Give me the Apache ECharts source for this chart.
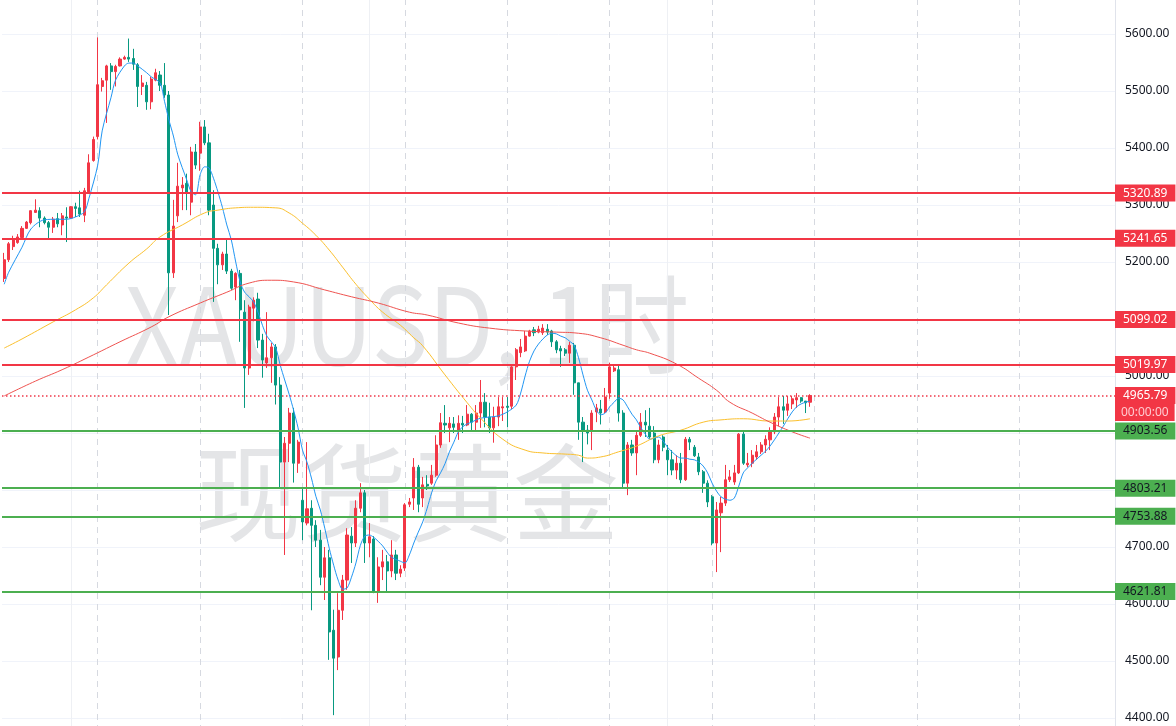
<!DOCTYPE html>
<html>
<head>
<meta charset="utf-8">
<script src="https://cdn.jsdelivr.net/npm/echarts@6/dist/echarts.min.js"></script>
<style>
html,body{margin:0;padding:0;background:#ffffff;overflow:hidden;}
#chart{width:1176px;height:798px;margin-top:-23px;}
</style>
</head>
<body>
<div id="chart"></div>
<script>
// ---- data (XAUUSD 1h) ----
const opens = [5171,5204,5227,5234,5243,5259,5269,5287,5290,5277,5269,5261,5276,5265,5279,5277,5297,5295,5282,5323,
5378,5420,5508,5519,5544,5534,5544,5556,5559,5557,5546,5508,5510,5481,5519,5528,5510,5493,5181,5281,
5330,5338,5305,5393,5391,5437,5409,5300,5224,5195,5214,5184,5156,5180,5112,5014,5119,5135,5063,5023,
5032,5051,4984,4849,4882,4935,4847,4782,4742,4768,4738,4712,4647,4681,4554,4507,4589,4642,4719,4707,
4768,4795,4707,4714,4621,4665,4674,4658,4686,4654,4663,4775,4786,4840,4786,4810,4812,4826,4879,4917,
4909,4916,4905,4917,4914,4933,4919,4935,4954,4928,4909,4928,4944,4947,4947,5016,5041,5044,5070,5081,
5077,5076,5082,5079,5060,5048,5046,5040,5054,4988,4919,4905,4903,4937,4942,4937,4970,5009,5011,4935,
4812,4879,4865,4896,4919,4912,4900,4853,4893,4870,4853,4835,4847,4818,4889,4875,4858,4832,4812,4788,
4707,4760,4777,4818,4814,4830,4898,4844,4847,4858,4867,4879,4888,4902,4928,4946,4940,4951,4958,4962,
4956,4954];
const highs = [5216,5235,5246,5249,5263,5272,5291,5310,5296,5280,5272,5279,5286,5286,5296,5298,5304,5325,5330,5389,
5420,5594,5523,5546,5549,5546,5559,5562,5592,5574,5549,5528,5516,5525,5539,5535,5549,5500,5309,5374,
5349,5355,5402,5407,5446,5449,5425,5326,5232,5218,5239,5188,5182,5186,5133,5125,5138,5146,5074,5112,
5058,5056,4998,4893,4944,4944,4888,4805,4884,4782,4747,4730,4700,4695,4590,4619,4651,4733,4735,4782,
4812,4800,4742,4719,4682,4695,4686,4712,4695,4668,4777,4786,4856,4844,4823,4826,4844,4896,4935,4949,
4928,4928,4931,4930,4949,4935,4949,4993,4970,4953,4946,4963,4963,4963,5018,5049,5065,5079,5081,5086,
5088,5091,5091,5081,5063,5053,5049,5060,5058,4988,4928,4914,4940,4951,4958,4979,5023,5021,5018,4940,
4884,4888,4905,4935,4940,4944,4912,4888,4896,4879,4870,4861,4865,4893,4893,4879,4865,4835,4817,4791,
4779,4788,4844,4835,4844,4900,4902,4865,4870,4879,4884,4896,4910,4935,4963,4965,4965,4965,4970,4963,
4956,4968];
const lows = [5165,5200,5221,5232,5241,5258,5266,5286,5261,5266,5239,5251,5261,5247,5235,5276,5279,5279,5270,5321,
5376,5415,5499,5444,5502,5508,5543,5555,5551,5537,5472,5493,5467,5468,5517,5500,5488,5107,5172,5270,
5291,5291,5282,5363,5360,5405,5282,5130,5161,5186,5179,5151,5133,5060,4944,5002,5096,5049,4997,5014,
4988,4950,4805,4686,4849,4813,4830,4712,4738,4589,4700,4633,4607,4502,4405,4484,4572,4625,4672,4700,
4761,4672,4682,4619,4602,4642,4621,4647,4642,4647,4658,4770,4765,4761,4770,4800,4809,4823,4874,4900,
4884,4900,4888,4900,4912,4903,4903,4909,4910,4900,4883,4912,4921,4910,4942,4993,5033,5042,5069,5070,
5075,5072,5072,5051,5040,5016,5035,5023,4967,4888,4849,4880,4870,4919,4915,4935,4960,5007,4920,4805,
4791,4860,4826,4893,4893,4890,4847,4847,4868,4826,4826,4819,4812,4816,4870,4858,4826,4795,4770,4703,
4656,4691,4772,4814,4809,4828,4844,4840,4840,4853,4863,4865,4870,4898,4912,4916,4930,4942,4944,4953,
4935,4946];
const closes = [5204,5232,5239,5244,5259,5270,5290,5291,5277,5269,5261,5275,5267,5281,5277,5297,5294,5284,5325,5374,
5415,5511,5518,5544,5534,5543,5556,5559,5556,5547,5508,5514,5481,5521,5532,5510,5493,5181,5263,5333,
5335,5321,5393,5370,5437,5409,5291,5224,5195,5214,5184,5154,5180,5116,5014,5121,5133,5063,5028,5032,
5051,4984,4849,4882,4935,4847,4884,4744,4767,4738,4712,4647,4681,4551,4505,4589,4642,4721,4707,4768,
4795,4707,4718,4621,4665,4674,4658,4686,4654,4661,4774,4779,4840,4775,4809,4807,4826,4879,4918,4914,
4917,4910,4917,4914,4933,4919,4935,4954,4928,4909,4928,4946,4946,4945,5016,5046,5051,5070,5079,5076,
5082,5084,5077,5060,5046,5044,5040,5054,4988,4919,4905,4900,4935,4944,4935,4963,5016,5014,4935,4812,
4879,4865,4896,4919,4914,4893,4853,4879,4875,4853,4835,4847,4818,4889,4884,4860,4832,4812,4779,4707,
4765,4777,4818,4823,4830,4898,4847,4847,4861,4867,4879,4889,4902,4928,4946,4940,4951,4960,4962,4956,
4953,4965.79];

// moving averages: [bar index, value]
const maFast = [[0,5161],[1,5182],[4,5226],[6,5258],[9,5274],[12,5275],[14,5275],[16,5279],[18,5288],[19,5311],
[21,5370],[22,5430],[24,5489],[25,5519],[27,5544],[28,5549],[29,5549],[30,5544],[32,5532],[33,5525],[35,5514],
[36,5482],[37,5449],[38,5421],[39,5388],[41,5344],[42,5323],[43,5318],[44,5353],[45,5367],[46,5365],[47,5347],
[48,5323],[49,5296],[50,5265],[51,5239],[52,5200],[53,5165],[54,5147],[55,5139],[56,5130],[57,5112],[58,5089],
[59,5070],[60,5060],[61,5049],[62,5019],[63,4993],[64,4968],[65,4940],[66,4909],[67,4870],[68,4849],[69,4821],
[70,4789],[71,4765],[72,4733],[73,4698],[74,4668],[75,4642],[76,4626],[77,4628],[78,4647],[79,4672],[80,4703],
[81,4719],[82,4721],[83,4717],[84,4710],[85,4702],[86,4691],[87,4682],[89,4675],[90,4672],[91,4686],[92,4707],
[93,4726],[94,4744],[95,4768],[96,4795],[97,4816],[98,4830],[99,4846],[100,4867],[101,4884],[102,4902],[103,4911],
[104,4916],[105,4919],[106,4923],[107,4926],[109,4928],[111,4930],[113,4937],[115,4949],[116,4970],[117,5000],
[118,5026],[119,5044],[120,5056],[121,5065],[122,5072],[123,5075],[124,5074],[125,5070],[126,5067],[127,5061],
[128,5054],[129,5032],[130,5002],[131,4975],[132,4958],[133,4940],[134,4932],[135,4935],[136,4946],[137,4954],
[138,4961],[139,4958],[140,4946],[141,4933],[142,4923],[143,4909],[144,4898],[145,4889],[146,4891],[147,4893],
[148,4886],[149,4875],[150,4867],[151,4860],[152,4856],[153,4856],[154,4854],[155,4853],[156,4849],[157,4842],
[158,4830],[159,4812],[160,4798],[161,4788],[162,4784],[163,4782],[164,4786],[165,4807],[166,4830],[167,4839],
[168,4847],[169,4854],[170,4861],[171,4868],[172,4877],[173,4888],[174,4900],[175,4912],[176,4925],[177,4937],
[178,4946],[179,4951],[180,4954],[181,4956]];
const maMid = [[0,5049],[4,5065],[11,5095],[16,5116],[20,5137],[23,5160],[28,5198],[32,5223],[35,5244],[40,5265],
[45,5286],[48,5291],[52,5295],[56,5296],[61,5295],[64,5286],[67,5268],[70,5247],[73,5221],[76,5191],[79,5161],
[82,5135],[85,5112],[89,5089],[92,5067],[94,5053],[99,5002],[104,4953],[107,4926],[112,4889],[117,4870],
[121,4865],[126,4863],[129,4861],[131,4856],[134,4858],[138,4867],[142,4877],[147,4895],[152,4905],[157,4919],
[161,4923],[166,4925],[172,4921],[176,4921],[181,4925]];
const maSlow = [[0,4965],[7,4991],[13,5011],[20,5037],[26,5060],[33,5086],[37,5104],[44,5128],[50,5147],[55,5163],
[60,5168],[65,5165],[72,5151],[78,5139],[84,5128],[91,5112],[95,5107],[102,5093],[109,5084],[117,5079],[124,5077],
[129,5075],[134,5067],[139,5054],[142,5046],[145,5040],[151,5021],[156,4996],[160,4975],[163,4954],[168,4935],
[172,4919],[177,4902],[181,4891]];

const resistanceLevels = [5320.89, 5241.65, 5099.02, 5019.97];
const supportLevels = [4903.56, 4803.21, 4753.88, 4621.81];
const lastPrice = 4965.79;
const countdownText = '00:00:00';
const sessionBreaks = [21, 44, 67, 90, 113, 136, 159, 182, 205, 228];
const periodBreaks = [15, 82, 149];
const watermarkLines = ['XAUUSD, 1时', '现货黄金'];

const slotCount = 250;
const categories = Array.from({length: slotCount}, (_, i) => 'bar' + i);
const yMin = 4300, yMax = 5700, yStep = 100;

// ---- layout / styles ----
// the chart canvas is 798px tall and shifted up by 23px, so 5700 / 4300 fall just outside the window
const FONT = '"Noto Sans", "DejaVu Sans", sans-serif';
const RED = '#F23645', GREEN_LINE = '#4CAF50', UP = '#F23645', DOWN = '#089981';
const canvasH = 798, shiftY = 23;
const pxPerUnit = canvasH / (yMax - yMin);

const candleData = opens.map((o, i) => [o, closes[i], lows[i], highs[i]]);

function levelLine(v, bg, fg) {
  return {
    yAxis: v,
    lineStyle: {color: bg, width: 2, type: 'solid'},
    label: {show: true, position: 'end', distance: 0, formatter: v.toFixed(2),
      backgroundColor: bg, color: fg, padding: [2, 8, 2, 8], fontSize: 12, fontFamily: FONT, lineHeight: 13}
  };
}

const markData = [];
resistanceLevels.forEach(v => markData.push(levelLine(v, RED, '#ffffff')));
supportLevels.forEach(v => markData.push(levelLine(v, GREEN_LINE, '#131722')));
markData.push({
  yAxis: lastPrice,
  lineStyle: {color: '#F0394A', width: 1.5, type: [1.5, 2.5], opacity: 1},
  label: {show: true, position: 'end', distance: 0, formatter: lastPrice.toFixed(2),
    backgroundColor: RED, color: '#ffffff', padding: [2, 8, 2, 8], fontSize: 12, fontFamily: FONT, lineHeight: 13}
});
markData.push({
  yAxis: lastPrice - 17 / pxPerUnit,
  lineStyle: {color: 'rgba(255,255,255,0)', width: 0},
  label: {show: true, position: 'end', distance: 0, formatter: countdownText,
    backgroundColor: RED, color: '#ffc9cf', padding: [2, 6, 2, 6], fontSize: 12, fontFamily: FONT, lineHeight: 13}
});

const vLines = [];
sessionBreaks.forEach(i => vLines.push({xAxis: i, lineStyle: {color: '#d6d9e0', width: 1, type: [6, 5]}}));
periodBreaks.forEach(i => vLines.push({xAxis: i, lineStyle: {color: '#eef0f4', width: 1, type: 'solid'}}));

const chart = echarts.init(document.getElementById('chart'), null, {renderer: 'canvas'});
chart.setOption({
  animation: false,
  backgroundColor: '#ffffff',
  grid: {left: 2, right: 61, top: 0, bottom: 0, containLabel: false, outerBoundsMode: 'none'},
  xAxis: {
    type: 'category', data: categories, boundaryGap: true,
    axisLine: {show: false}, axisTick: {show: false}, axisLabel: {show: false}, splitLine: {show: false}
  },
  yAxis: {
    type: 'value', position: 'right', min: yMin, max: yMax, interval: yStep,
    axisLine: {show: true, lineStyle: {color: '#e0e3eb'}},
    axisTick: {show: false},
    axisLabel: {color: '#131722', fontSize: 12, fontFamily: FONT, margin: 10, formatter: v => v.toFixed(2)},
    splitLine: {show: true, lineStyle: {color: '#f0f3fa', width: 1}}
  },
  graphic: [
    {type: 'text', x: 407, y: 325 + shiftY, scaleX: 0.88, z: -10, silent: true,
     style: {text: watermarkLines[0], fill: 'rgba(120,123,134,0.2)', fontSize: 108,
       fontFamily: '"Noto Sans CJK SC", "Noto Sans", sans-serif', align: 'center', verticalAlign: 'middle'}},
    {type: 'text', x: 407, y: 493 + shiftY, z: -10, silent: true,
     style: {text: watermarkLines[1], fill: 'rgba(120,123,134,0.2)', fontSize: 106,
       fontFamily: '"Noto Sans CJK SC", sans-serif', align: 'center', verticalAlign: 'middle'}}
  ],
  series: [
    {
      type: 'line', name: 'grid', data: [], z: 1, silent: true,
      markLine: {z: 1, silent: true, symbol: ['none', 'none'], label: {show: false}, data: vLines}
    },
    {
      type: 'candlestick', name: 'XAUUSD', data: candleData, z: 2, barWidth: 2.6,
      itemStyle: {color: UP, color0: DOWN, borderColor: UP, borderColor0: DOWN, borderWidth: 1},
      markLine: {silent: true, symbol: ['none', 'none'], data: markData, animation: false}
    },
    {type: 'line', name: 'MA fast', data: maFast, showSymbol: false, smooth: 0.3, z: 3,
     lineStyle: {color: '#2196F3', width: 1}},
    {type: 'line', name: 'MA mid', data: maMid, showSymbol: false, smooth: true, z: 3,
     lineStyle: {color: '#FBC02D', width: 1}},
    {type: 'line', name: 'MA slow', data: maSlow, showSymbol: false, smooth: true, z: 3,
     lineStyle: {color: '#EF5350', width: 1}}
  ]
});
</script>
</body>
</html>
